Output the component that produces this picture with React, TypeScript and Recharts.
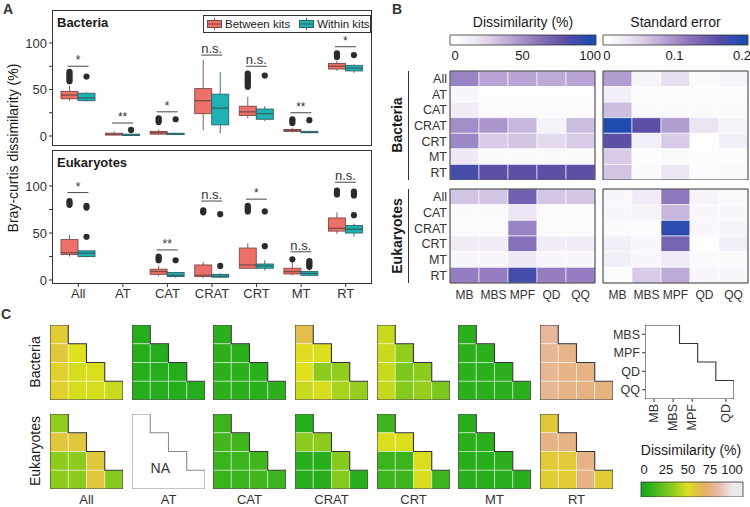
import React from 'react';
import { ComposedChart, Bar, Line, XAxis, YAxis, ReferenceArea } from 'recharts';

const FONT = '"Liberation Sans", Arial, Helvetica, sans-serif';
const INK = '#333333';

// ---------- panel A: box plots ----------
const groups = ['All', 'AT', 'CAT', 'CRAT', 'CRT', 'MT', 'RT'];

// [lower whisker, q1, median, q3, upper whisker]
const bacBetween = [
  [38, 40, 44, 48, 54],
  [0.5, 1, 2, 3, 5],
  [1, 2, 3.5, 5, 7],
  [6, 24, 38, 51, 82],
  [19, 22, 26, 32, 42],
  [4, 5, 6, 7, 9],
  [70, 72, 75, 78, 81],
];
const bacWithin = [
  [37, 38, 41, 46, 47],
  [0, 0.5, 1, 2, 2.5],
  [1, 1.5, 2, 3, 3.5],
  [3, 12, 30, 45, 69],
  [16, 18, 24, 29, 32],
  [3, 3.5, 4, 5, 5.5],
  [68, 70, 73, 76, 77],
];
const bacBetweenOut = [[59, 61, 63, 65, 67, 69], [], [15, 17, 19], [], [53, 55, 57, 59, 61, 63, 65, 67], [14, 16, 18], [85, 87, 89]];
const bacWithinOut = [[64], [6.5], [18], [], [65], [17], [87]];
const bacSig = ['*', '**', '*', 'n.s.', 'n.s.', '**', '*'];
const bacSigY = [75, 14, 26, 87, 75, 25, 96];

const eukBetween = [
  [25, 27, 29, 43, 48],
  null,
  [4, 6, 9, 11.5, 15],
  [2, 3.6, 5, 16, 19],
  [12, 12.5, 16, 34, 39],
  [5, 6.4, 9, 12.5, 19],
  [49, 52, 55, 66, 72],
];
const eukWithin = [
  [24, 25, 28.5, 31, 31.5],
  null,
  [2.5, 3.6, 5, 8, 8.5],
  [2, 3, 4, 6, 7],
  [10, 12.5, 15, 17, 21],
  [4, 5, 7, 9, 10],
  [46, 50, 54, 58, 60],
];
const eukBetweenOut = [[80, 82, 84], [], [21, 23, 25], [72, 74], [73, 75, 77, 79], [22], [91, 93, 95]];
const eukWithinOut = [[46, 77, 79], [], [21], [15, 70], [36, 73], [14, 16, 18, 20], [69, 90, 92, 94]];
const eukSig = ['*', '', '**', 'n.s.', '*', 'n.s.', 'n.s.'];
const eukSigY = [93, 0, 32, 84, 86, 30, 104];

// ---------- panel B: heatmaps ----------
const bacRows = ['All', 'AT', 'CAT', 'CRAT', 'CRT', 'MT', 'RT'];
const eukRows = ['All', 'CAT', 'CRAT', 'CRT', 'MT', 'RT'];
const kits = ['MB', 'MBS', 'MPF', 'QD', 'QQ'];

const bacDissim = [
  [56, 42, 42, 40, 42],
  [6, 2, 2, 2, 2],
  [12, 3, 3, 3, 3],
  [52, 48, 35, 8, 33],
  [54, 27, 30, 22, 27],
  [14, 4, 4, 4, 4],
  [88, 80, 80, 80, 80],
];
const eukDissim = [
  [30, 30, 72, 29, 29],
  [4, 4, 16, 3, 3],
  [3, 3, 55, 3, 3],
  [12, 12, 64, 12, 12],
  [5, 5, 14, 5, 5],
  [58, 58, 88, 58, 58],
];
const bacSE = [
  [0.09, 0.015, 0.04, 0.008, 0.015],
  [0.02, 0.005, 0.005, 0.005, 0.005],
  [0.065, 0.008, 0.008, 0.008, 0.008],
  [0.2, 0.16, 0.09, 0.035, 0.015],
  [0.16, 0.02, 0.055, 0.003, 0.02],
  [0.055, 0.005, 0.008, 0.005, 0.005],
  [0.06, 0.008, 0.03, 0.005, 0.008],
];
const eukSE = [
  [0.01, 0.025, 0.12, 0.015, 0.008],
  [0.01, 0.015, 0.07, 0.01, 0.01],
  [0.008, 0.005, 0.19, 0.01, 0.015],
  [0.02, 0.01, 0.14, 0.003, 0.02],
  [0.02, 0.01, 0.025, 0.008, 0.008],
  [0.005, 0.055, 0.08, 0.01, 0.01],
];

// ---------- panel C: pairwise triangles ----------
const pairRows = ['MBS', 'MPF', 'QD', 'QQ'];
const pairCols = ['MB', 'MBS', 'MPF', 'QD'];
// lower triangle, row by row: MBS-MB, MPF-MB, MPF-MBS, QD-MB, QD-MBS, QD-MPF, QQ-MB, QQ-MBS, QQ-MPF, QQ-QD
const triBac = [
  [56, 58, 50, 54, 48, 49, 54, 48, 48, 45],
  [3, 4, 3, 4, 3, 3, 4, 3, 3, 3],
  [5, 6, 5, 6, 5, 5, 6, 5, 5, 6],
  [62, 51, 49, 50, 32, 33, 45, 48, 38, 34],
  [45, 45, 33, 45, 28, 32, 44, 30, 34, 28],
  [5, 6, 6, 6, 5, 5, 6, 5, 5, 5],
  [82, 80, 77, 80, 76, 76, 80, 76, 75, 74],
];
const triEuk = [
  [33, 58, 58, 32, 32, 58, 32, 32, 58, 30],
  null,
  [10, 12, 12, 9, 10, 12, 9, 9, 12, 10],
  [4, 32, 32, 4, 4, 30, 4, 4, 30, 4],
  [10, 49, 49, 10, 10, 49, 10, 10, 48, 10],
  [4, 5, 5, 4, 4, 5, 4, 4, 5, 4],
  [58, 76, 76, 57, 57, 76, 56, 56, 76, 56],
];
const keyTicksX = [-0.4, 0.65, 1.7, 3.55];

// ---------- colours ----------
const RED = '#ec7068';
const RED_LINE = '#7d4a47';
const TEAL = '#1fb1b4';
const TEAL_LINE = '#2d6466';

const hexRgb = (h: string) => [1, 3, 5].map((i) => parseInt(h.slice(i, i + 2), 16));
const rgbHex = (c: number[]) =>
  '#' + c.map((v) => Math.round(Math.max(0, Math.min(255, v))).toString(16).padStart(2, '0')).join('');

const PURPLE: [number, string][] = [
  [0, '#ffffff'],
  [0.2, '#e7dff0'],
  [0.4, '#bcaad7'],
  [0.6, '#8f79be'],
  [0.8, '#5c4fa5'],
  [1, '#1f4bb0'],
];
function purple(t: number) {
  const x = Math.max(0, Math.min(1, t));
  for (let i = 1; i < PURPLE.length; i++) {
    const [t1, c1] = PURPLE[i];
    const [t0, c0] = PURPLE[i - 1];
    if (x <= t1) {
      const f = (x - t0) / (t1 - t0);
      const a = hexRgb(c0);
      const b = hexRgb(c1);
      return rgbHex(a.map((v, k) => v + (b[k] - v) * f));
    }
  }
  return PURPLE[PURPLE.length - 1][1];
}

function hsv(h: number, s: number, v: number) {
  const i = Math.floor(h * 6);
  const f = h * 6 - i;
  const p = v * (1 - s);
  const q = v * (1 - f * s);
  const t = v * (1 - (1 - f) * s);
  const sets = [[v, t, p], [q, v, p], [p, v, t], [p, q, v], [t, p, v], [v, p, q]];
  return sets[((i % 6) + 6) % 6].map((c) => c * 255);
}
// R terrain.colors style ramp, value in %
function terrain(val: number) {
  const t = Math.max(0, Math.min(1, val / 100));
  let rgb: number[];
  if (t <= 0.5) {
    const u = t / 0.5;
    rgb = hsv(4 / 12 - (2 / 12) * u, 1, 0.65 + 0.25 * u);
  } else {
    const u = (t - 0.5) / 0.5;
    rgb = hsv((2 / 12) * (1 - u), 1 - u, 0.9 + 0.05 * u);
  }
  return rgbHex(rgb.map((c) => c * 0.85 + 190 * 0.15));
}

const abs = (left: number, top: number): React.CSSProperties => ({ position: 'absolute', left, top });

// ---------- box plot ----------
const boxRows = (between: any[], within: any[], bOut: number[][], wOut: number[][], sig: string[], sigY: number[]) =>
  groups.map((g, i) => ({
    group: g,
    between: between[i] ? { box: between[i], out: bOut[i] } : null,
    within: within[i] ? { box: within[i], out: wOut[i] } : null,
    sig: sig[i],
    sigY: sigY[i],
  }));

const bacBoxRows = boxRows(bacBetween, bacWithin, bacBetweenOut, bacWithinOut, bacSig, bacSigY);
const eukBoxRows = boxRows(eukBetween, eukWithin, eukBetweenOut, eukWithinOut, eukSig, eukSigY);

function boxShape(key: 'between' | 'within', fill: string, line: string, withSig: boolean) {
  return (p: any) => {
    const s = p.payload && p.payload[key];
    if (!s || !p.height) return <g />;
    const [lo, q1, md, q3, hi] = s.box;
    const top = Math.min(p.y, p.y + p.height);
    const bottom = Math.max(p.y, p.y + p.height);
    const py = (v: number) => bottom - ((bottom - top) * (v - lo)) / (hi - lo);
    const x0 = p.x;
    const w = p.width;
    const cx = x0 + w / 2;
    const sy = py(p.payload.sigY);
    return (
      <g>
        <line x1={cx} x2={cx} y1={py(hi)} y2={py(q3)} stroke={line} strokeWidth={0.9} />
        <line x1={cx} x2={cx} y1={py(q1)} y2={py(lo)} stroke={line} strokeWidth={0.9} />
        <rect x={x0} y={py(q3)} width={w} height={Math.max(0.8, py(q1) - py(q3))} fill={fill} stroke={line} strokeWidth={0.9} />
        <line x1={x0} x2={x0 + w} y1={py(md)} y2={py(md)} stroke={line} strokeWidth={1.3} />
        {s.out.map((v: number, j: number) => (
          <circle key={j} cx={cx} cy={py(v)} r={3.1} fill="#2b2b2b" />
        ))}
        {withSig && p.payload.sig ? (
          <g>
            <line x1={cx - 2} x2={cx + w + 2} y1={sy} y2={sy} stroke={INK} strokeWidth={0.9} />
            <text x={x0 + w} y={sy - 2} textAnchor="middle" fontSize={p.payload.sig === 'n.s.' ? 13 : 12} fill={INK}>
              {p.payload.sig}
            </text>
          </g>
        ) : null}
      </g>
    );
  };
}

function BoxPanel({ rows, top, height, domain, showX, title }: any) {
  const plotH = height - 10 - (showX ? 26 : 0);
  return (
    <>
      <div style={abs(0, top)}>
        <ComposedChart width={373} height={height} data={rows} margin={{ top: 10, right: 1, bottom: 0, left: 0 }} barGap={0}>
          <XAxis
            dataKey="group"
            hide={!showX}
            padding={{ left: 4, right: 4 }}
            axisLine={false}
            tickLine={{ stroke: INK }}
            tickSize={3}
            tick={{ fontSize: 13, fill: INK }}
            height={26}
            interval={0}
          />
          <YAxis
            type="number"
            domain={domain}
            allowDataOverflow
            ticks={[0, 25, 50, 75, 100]}
            tickFormatter={(v: number) => (v % 50 === 0 ? String(v) : '')}
            width={52}
            axisLine={false}
            tickLine={{ stroke: INK }}
            tickSize={3}
            tick={{ fontSize: 13, fill: INK }}
            interval={0}
          />
          <Bar
            dataKey={(d: any) => (d.between ? [d.between.box[0], d.between.box[4]] : null)}
            barSize={17}
            shape={boxShape('between', RED, RED_LINE, true)}
            isAnimationActive={false}
          />
          <Bar
            dataKey={(d: any) => (d.within ? [d.within.box[0], d.within.box[4]] : null)}
            barSize={17}
            shape={boxShape('within', TEAL, TEAL_LINE, false)}
            isAnimationActive={false}
          />
        </ComposedChart>
      </div>
      <div
        style={{
          ...abs(52, top + 10),
          width: 320,
          height: plotH,
          border: `1px solid ${INK}`,
          boxSizing: 'border-box',
          pointerEvents: 'none',
        }}
      />
      <div style={{ ...abs(57, top + 15), fontWeight: 'bold', fontSize: 13, lineHeight: '15px', color: '#1a1a1a' }}>{title}</div>
    </>
  );
}

function LegendKey({ fill, line }: { fill: string; line: string }) {
  return (
    <svg width={15} height={12} style={{ marginRight: 3, flex: 'none' }}>
      <line x1={7.5} x2={7.5} y1={0} y2={12} stroke={line} />
      <rect x={0.5} y={2.5} width={14} height={7} fill={fill} stroke={line} />
      <line x1={0.5} x2={14.5} y1={6} y2={6} stroke={line} />
    </svg>
  );
}

// ---------- heatmap ----------
function Heat({ left, top, width, height, margin, rows, values, max, showRows, showCols }: any) {
  return (
    <div style={abs(left, top)}>
      <ComposedChart width={width} height={height} margin={margin} data={rows.map((r: string, i: number) => ({ row: r, x: 0, y: i }))}>
        <XAxis
          type="number"
          dataKey="x"
          domain={[0, kits.length]}
          ticks={kits.map((_, i) => i + 0.5)}
          tickFormatter={(v: number) => kits[Math.floor(v)]}
          hide={!showCols}
          allowDataOverflow
          axisLine={false}
          tickLine={false}
          tickSize={5}
          tick={{ fontSize: 12, fill: INK }}
          height={24}
          interval={0}
        />
        <YAxis
          type="number"
          dataKey="y"
          domain={[0, rows.length]}
          reversed
          ticks={rows.map((_: string, i: number) => i + 0.5)}
          tickFormatter={(v: number) => rows[Math.floor(v)]}
          hide={!showRows}
          width={70}
          allowDataOverflow
          axisLine={false}
          tickLine={false}
          tickSize={1}
          tick={{ fontSize: 12.5, fill: INK }}
          interval={0}
        />
        {values.flatMap((row: number[], r: number) =>
          row.map((v: number, c: number) => (
            <ReferenceArea
              key={`${r}-${c}`}
              x1={c}
              x2={c + 1}
              y1={r}
              y2={r + 1}
              fill={purple(v / max)}
              fillOpacity={1}
              stroke="#ffffff"
              strokeWidth={0.6}
              ifOverflow="visible"
            />
          ))
        )}
        <ReferenceArea x1={0} x2={kits.length} y1={0} y2={rows.length} fill="none" stroke={INK} strokeWidth={1} ifOverflow="visible" />
      </ComposedChart>
    </div>
  );
}

// ---------- colour bar ----------
function ColorBar({ id, left, top, width, height, margin, domain, ticks, fmt, color, orientation }: any) {
  const samples = Array.from({ length: 41 }, (_, i) => i / 40);
  return (
    <div style={abs(left, top)}>
      <ComposedChart width={width} height={height} margin={margin} data={[{ x: domain[0], y: 0 }, { x: domain[1], y: 1 }]}>
        <defs>
          <linearGradient id={id} x1="0" x2="1" y1="0" y2="0">
            {samples.map((t) => (
              <stop key={t} offset={t} stopColor={color(domain[0] + t * (domain[1] - domain[0]))} />
            ))}
          </linearGradient>
        </defs>
        <XAxis
          type="number"
          dataKey="x"
          domain={domain}
          ticks={ticks}
          tickFormatter={fmt}
          orientation={orientation}
          allowDataOverflow
          axisLine={false}
          tickLine={false}
          tickSize={orientation === 'top' ? 6 : 4}
          tick={{ fontSize: 13, fill: '#1a1a1a' }}
          height={20}
          interval={0}
        />
        <YAxis type="number" dataKey="y" domain={[0, 1]} hide />
        <ReferenceArea x1={domain[0]} x2={domain[1]} y1={0} y2={1} fill={`url(#${id})`} fillOpacity={1} stroke={INK} strokeWidth={0.8} ifOverflow="visible" />
      </ComposedChart>
    </div>
  );
}

// ---------- triangles ----------
const stairs = (leftEdge: number) => {
  const pts = [{ x: leftEdge, y: 0 }];
  for (let i = 0; i < pairRows.length; i++) {
    pts.push({ x: i + 1, y: i });
    pts.push({ x: i + 1, y: i + 1 });
  }
  pts.push({ x: leftEdge, y: pairRows.length });
  pts.push({ x: leftEdge, y: 0 });
  return pts;
};
const cellsRC: [number, number][] = [];
pairRows.forEach((_, r) => pairCols.forEach((__, c) => { if (c <= r) cellsRC.push([r, c]); }));

function Tri({ left, top, values }: { left: number; top: number; values: number[] | null }) {
  return (
    <div style={abs(left - 1, top - 1)}>
      <ComposedChart width={75} height={77} margin={{ top: 1, right: 1, bottom: 1, left: 1 }} data={stairs(0)}>
        <XAxis type="number" dataKey="x" domain={[0, 4]} hide allowDataOverflow />
        <YAxis type="number" domain={[0, 4]} reversed hide allowDataOverflow />
        {values
          ? cellsRC.map(([r, c], k) => (
              <ReferenceArea
                key={k}
                x1={c}
                x2={c + 1}
                y1={r}
                y2={r + 1}
                fill={terrain(values[k])}
                fillOpacity={1}
                stroke="#ffffff"
                strokeOpacity={0.55}
                strokeWidth={0.8}
                ifOverflow="visible"
              />
            ))
          : (
            <ReferenceArea
              x1={0.6}
              x2={2.5}
              y1={2.4}
              y2={3.4}
              fill="none"
              stroke="none"
              ifOverflow="visible"
              label={{ value: 'NA', position: 'center', fontSize: 14, fill: INK }}
            />
          )}
        <Line dataKey="y" stroke={values ? INK : '#8a8a8a'} strokeWidth={1.1} dot={false} isAnimationActive={false} />
      </ComposedChart>
    </div>
  );
}

function KeyTick({ x, y, payload }: any) {
  return (
    <text x={x} y={y} transform={`rotate(-90 ${x} ${y})`} textAnchor="end" dominantBaseline="central" fontSize={12.5} fill={INK}>
      {pairCols[keyTicksX.indexOf(payload.value)]}
    </text>
  );
}

const rotLabel = (text: string, cx: number, cy: number, bold: boolean, size = 14) => (
  <div
    style={{
      ...abs(cx - 100, cy - 9),
      width: 200,
      height: 18,
      lineHeight: '18px',
      textAlign: 'center',
      fontSize: size,
      fontWeight: bold ? 'bold' : 'normal',
      transform: 'rotate(-90deg)',
      color: '#1a1a1a',
    }}
  >
    {text}
  </div>
);

const triLefts = [50, 132, 213, 295, 377, 458, 540];

export default function App() {
  return (
    <div style={{ position: 'absolute', left: 0, top: 0, width: 750, height: 507, background: '#fff', fontFamily: FONT, color: INK, overflow: 'hidden' }}>
      {/* panel letters */}
      <div style={{ ...abs(3, 1), fontWeight: 'bold', fontSize: 14 }}>A</div>
      <div style={{ ...abs(392, 1), fontWeight: 'bold', fontSize: 14 }}>B</div>
      <div style={{ ...abs(1, 306), fontWeight: 'bold', fontSize: 14 }}>C</div>

      {/* A */}
      {rotLabel('Bray-curtis dissimilarity (%)', 13, 148, false, 14)}
      <BoxPanel rows={bacBoxRows} top={0} height={146} domain={[-10.75, 135.5]} showX={false} title="Bacteria" />
      <BoxPanel rows={eukBoxRows} top={140} height={170} domain={[-4.26, 138.3]} showX title="Eukaryotes" />
      <div
        style={{
          ...abs(203, 15),
          width: 168,
          height: 18,
          border: `1px solid ${INK}`,
          boxSizing: 'border-box',
          background: '#fff',
          display: 'flex',
          alignItems: 'center',
          fontSize: 11.5,
          paddingLeft: 3,
          whiteSpace: 'nowrap',
          color: '#1a1a1a',
        }}
      >
        <LegendKey fill={RED} line={RED_LINE} />
        <span style={{ marginRight: 9 }}>Between kits</span>
        <LegendKey fill={TEAL} line={TEAL_LINE} />
        <span>Within kits</span>
      </div>

      {/* B */}
      <div style={{ ...abs(450, 14), width: 146, textAlign: 'center', fontSize: 14, color: '#1a1a1a' }}>Dissimilarity (%)</div>
      <div style={{ ...abs(603, 14), width: 145, textAlign: 'center', fontSize: 14, color: '#1a1a1a' }}>Standard error</div>
      <ColorBar
        id="cbDis"
        left={440}
        top={25}
        width={166}
        height={40}
        margin={{ top: 10, right: 10, bottom: 0, left: 10 }}
        domain={[-3.7, 104.4]}
        ticks={[0, 50, 100]}
        fmt={(v: number) => String(v)}
        color={(v: number) => purple(v / 100)}
        orientation="bottom"
      />
      <ColorBar
        id="cbSe"
        left={593}
        top={25}
        width={165}
        height={40}
        margin={{ top: 10, right: 10, bottom: 0, left: 10 }}
        domain={[-0.0059, 0.2089]}
        ticks={[0, 0.1, 0.2]}
        fmt={(v: number) => String(v)}
        color={(v: number) => purple(v / 0.2)}
        orientation="bottom"
      />
      {rotLabel('Bacteria', 397, 125, true)}
      {rotLabel('Eukaryotes', 397, 236, true)}
      <div style={{ ...abs(408, 71), width: 1, height: 109, background: INK }} />
      <div style={{ ...abs(408, 189), width: 1, height: 94, background: INK }} />
      <Heat left={380} top={60} width={216} height={120} margin={{ top: 11, right: 1, bottom: 0, left: 0 }} rows={bacRows} values={bacDissim} max={100} showRows showCols={false} />
      <Heat left={600} top={60} width={149} height={120} margin={{ top: 11, right: 1, bottom: 0, left: 3 }} rows={bacRows} values={bacSE} max={0.2} showRows={false} showCols={false} />
      <Heat left={380} top={180} width={216} height={127} margin={{ top: 9, right: 1, bottom: 0, left: 0 }} rows={eukRows} values={eukDissim} max={100} showRows showCols />
      <Heat left={600} top={180} width={149} height={127} margin={{ top: 9, right: 1, bottom: 0, left: 3 }} rows={eukRows} values={eukSE} max={0.2} showRows={false} showCols />

      {/* C */}
      {rotLabel('Bacteria', 35, 362, false)}
      {rotLabel('Eukaryotes', 35, 451, false)}
      {groups.map((g, i) => (
        <React.Fragment key={g}>
          <Tri left={triLefts[i]} top={325} values={triBac[i]} />
          <Tri left={triLefts[i]} top={414} values={triEuk[i]} />
          <div style={{ ...abs(triLefts[i] - 10, 492), width: 93, textAlign: 'center', fontSize: 13, color: INK }}>{g}</div>
        </React.Fragment>
      ))}
      <div style={abs(600, 320)}>
        <ComposedChart width={142} height={119} margin={{ top: 5, right: 8, bottom: 0, left: 0 }} data={stairs(-0.9)}>
          <XAxis
            type="number"
            dataKey="x"
            domain={[-0.9, 4]}
            ticks={keyTicksX}
            tick={<KeyTick />}
            allowDataOverflow
            axisLine={false}
            tickLine={{ stroke: INK }}
            tickSize={3}
            height={40}
            interval={0}
          />
          <YAxis
            type="number"
            domain={[0, 4]}
            reversed
            ticks={[0.5, 1.5, 2.5, 3.5]}
            tickFormatter={(v: number) => pairRows[Math.floor(v)]}
            width={45}
            allowDataOverflow
            axisLine={false}
            tickLine={{ stroke: INK }}
            tickSize={3}
            tick={{ fontSize: 12.5, fill: INK }}
            interval={0}
          />
          <Line dataKey="y" stroke={INK} strokeWidth={1.1} dot={false} isAnimationActive={false} />
        </ComposedChart>
      </div>
      <div style={{ ...abs(636, 442), width: 110, textAlign: 'center', fontSize: 14, color: '#1a1a1a' }}>Dissimilarity (%)</div>
      <ColorBar
        id="cbTer"
        left={631}
        top={455}
        width={122}
        height={42}
        margin={{ top: 7, right: 10, bottom: 0, left: 10 }}
        domain={[-3.5, 112.5]}
        ticks={[0, 25, 50, 75, 100]}
        fmt={(v: number) => String(v)}
        color={(v: number) => terrain(v)}
        orientation="top"
      />
    </div>
  );
}
